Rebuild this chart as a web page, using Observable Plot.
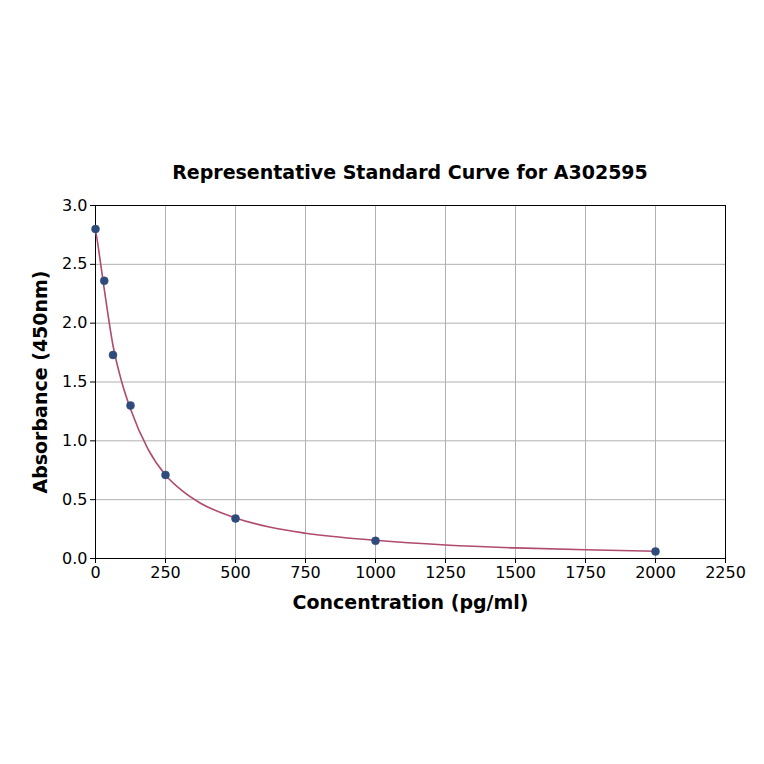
<!DOCTYPE html>
<html><head><meta charset="utf-8">
<script src="https://cdn.jsdelivr.net/npm/d3@7"></script>
<script src="https://cdn.jsdelivr.net/npm/@observablehq/plot@0.6"></script>
<style>
body{margin:0;background:#fff;font-family:"DejaVu Sans",sans-serif;}
#title{position:absolute;left:95px;width:630px;top:161px;text-align:center;font-weight:bold;font-size:19px;color:#000;}
#chart{position:absolute;left:0;top:185px;}
</style></head>
<body>
<div id="title">Representative Standard Curve for A302595</div>
<div id="chart"></div>
<script>
const concentration = [0, 31.25, 62.5, 125, 250, 500, 1000, 2000];
const absorbance = [2.80, 2.36, 1.73, 1.30, 0.71, 0.34, 0.15, 0.06];
const curveX = [0, 7.8, 15.6, 31.25, 62.5, 93.75, 125, 187.5, 250, 312.5, 375, 500, 625, 750, 1000, 1250, 1500, 1750, 2000];
const curveY = [2.79, 2.68, 2.55, 2.29, 1.81, 1.50, 1.27, 0.93, 0.71, 0.57, 0.47, 0.345, 0.265, 0.215, 0.155, 0.115, 0.09, 0.074, 0.062];
const xTicks = [0, 250, 500, 750, 1000, 1250, 1500, 1750, 2000, 2250];
const yTicks = [0.0, 0.5, 1.0, 1.5, 2.0, 2.5, 3.0];

const points = concentration.map((c, i) => ({c, a: absorbance[i]}));
const curve = curveX.map((c, i) => ({c, a: curveY[i]}));

const plot = Plot.plot({
  width: 764, height: 579,
  marginLeft: 95, marginRight: 39, marginTop: 20, marginBottom: 206,
  style: {fontFamily: "DejaVu Sans, sans-serif", fontSize: "16px", color: "#000", background: "#fff"},
  x: {domain: [0, 2250], ticks: xTicks, tickFormat: d => String(d), label: null},
  y: {domain: [0, 3], ticks: yTicks, tickFormat: d => d.toFixed(1), label: null},
  marks: [
    Plot.gridX(xTicks, {stroke: "#b0b0b0", strokeOpacity: 1, strokeWidth: 1}),
    Plot.gridY(yTicks, {stroke: "#b0b0b0", strokeOpacity: 1, strokeWidth: 1}),
    Plot.frame({stroke: "#000", strokeWidth: 1}),
    Plot.axisX(xTicks, {tickSize: 5, tickPadding: 3, fontSize: 16, tickFormat: d => String(d)}),
    Plot.axisY(yTicks, {tickSize: 5, tickPadding: 3, fontSize: 16, tickFormat: d => d.toFixed(1)}),
    Plot.line(curve, {x: "c", y: "a", stroke: "#b04a6e", strokeWidth: 1.6, curve: "monotone-x"}),
    Plot.dot(points, {x: "c", y: "a", r: 4, fill: "#2f4b7c", stroke: "#2f4b7c", strokeWidth: 0.5}),
    Plot.text(["Concentration (pg/ml)"], {frameAnchor: "bottom", dy: 50, fontSize: 19, fontWeight: "bold", textAnchor: "middle"}),
    Plot.text(["Absorbance (450nm)"], {frameAnchor: "left", dx: -55, rotate: -90, fontSize: 19, fontWeight: "bold", textAnchor: "middle"})
  ]
});
document.getElementById("chart").appendChild(plot);
</script>
</body></html>
